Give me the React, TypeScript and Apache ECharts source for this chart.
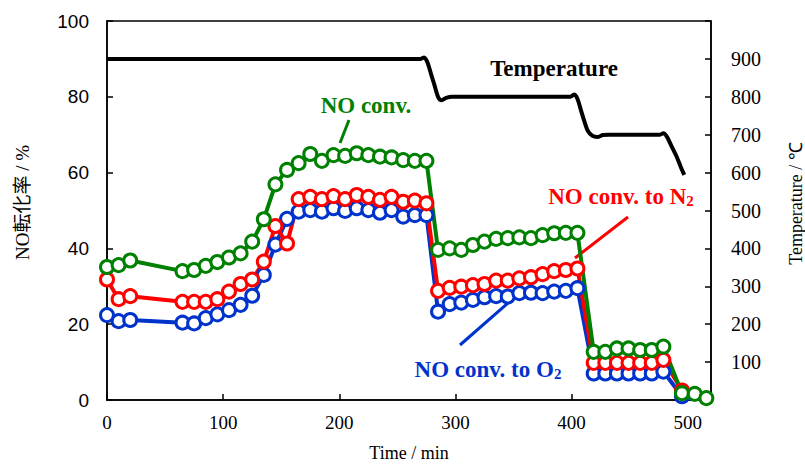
import React, { useEffect, useRef } from "react";
import * as echarts from "echarts";

const timeMain = [0, 10, 20, 65, 75, 85, 95, 105, 115, 125, 135, 145, 155, 165, 175, 185, 195, 205, 215, 225, 235, 245, 255, 265, 275, 285, 295, 305, 315, 325, 335, 345, 355, 365, 375, 385, 395, 405, 419, 429, 439, 449, 459, 469, 479, 495];
const timeGreenTail = [506, 516];

const noConv = [35.1, 35.6, 36.8, 34.0, 34.3, 35.4, 36.4, 37.6, 38.7, 41.8, 47.7, 56.9, 60.7, 62.5, 64.9, 63.1, 64.6, 64.4, 65.1, 64.6, 64.2, 64.0, 63.3, 63.1, 63.1, 39.6, 40.0, 39.6, 40.9, 41.8, 42.5, 42.7, 42.9, 42.7, 43.5, 44.0, 44.1, 44.1, 12.7, 12.7, 13.6, 13.6, 13.2, 13.2, 14.1, 1.8];
const noConvTail = [1.6, 0.5];

const noConvN2 = [31.8, 26.6, 27.4, 25.9, 25.9, 25.9, 26.6, 28.6, 30.6, 31.8, 36.5, 45.9, 41.3, 53.0, 53.6, 53.0, 53.8, 53.0, 54.1, 53.6, 52.8, 53.6, 52.3, 52.6, 51.9, 28.8, 29.6, 29.9, 30.3, 30.6, 31.5, 31.5, 32.1, 32.4, 33.2, 34.0, 34.3, 34.7, 9.8, 9.8, 9.8, 9.8, 9.8, 9.8, 10.6, 2.5];

const noConvO2 = [22.4, 20.8, 21.1, 20.4, 20.2, 21.6, 22.6, 23.7, 25.1, 27.5, 33.0, 41.0, 47.8, 49.7, 50.1, 49.7, 50.6, 49.9, 50.6, 50.1, 49.4, 50.1, 48.4, 48.8, 48.8, 23.3, 25.3, 25.7, 26.4, 27.1, 27.4, 27.3, 28.2, 28.3, 28.2, 28.6, 28.8, 29.5, 7.0, 7.0, 7.0, 7.0, 7.0, 7.0, 7.5, 1.0];

const tempTime = [0, 270, 273, 276, 279, 282, 285, 288, 292, 297, 399, 402, 405, 408, 411, 414, 418, 422, 427, 432, 476, 479, 482, 486, 490, 494, 497];
const tempVal = [900, 900, 904, 890, 860, 830, 800, 791, 797, 800, 800, 806, 795, 765, 735, 710, 697, 694, 699, 700, 700, 704, 695, 670, 645, 615, 594];

const xTicks = [0, 100, 200, 300, 400, 500];
const leftTicks = [0, 20, 40, 60, 80, 100];
const rightTicks = [100, 200, 300, 400, 500, 600, 700, 800, 900];

const GREEN = "#008000";
const RED = "#ff0000";
const BLUE = "#0033cc";
const SERIF = "'Liberation Serif', 'Times New Roman', serif";
const SANS = "'Liberation Sans', Arial, sans-serif";

function zip(t: number[], v: number[]) {
  return t.map((x, i) => [x, v[i]]);
}

function convSeries(name: string, data: number[][], color: string) {
  return {
    name,
    type: "line",
    data,
    symbol: "circle",
    symbolSize: 13,
    showAllSymbol: true,
    itemStyle: { color: "#fff", borderColor: color, borderWidth: 3 },
    lineStyle: { color, width: 4 },
    emphasis: { disabled: true },
  };
}

export default function App() {
  const ref = useRef<HTMLDivElement>(null);
  useEffect(() => {
    if (!ref.current) return;
    const chart = echarts.init(ref.current, undefined, { renderer: "svg" });
    const option: any = {
      animation: false,
      grid: {
        left: 107,
        right: 94,
        top: 21,
        bottom: 65,
        show: true,
        borderColor: "#000",
        borderWidth: 1.5,
        containLabel: false,
        outerBoundsMode: "none",
      },
      xAxis: {
        type: "value",
        min: 0,
        max: 520,
        interval: 100,
        name: "Time / min",
        nameLocation: "middle",
        nameGap: 44,
        nameTextStyle: { fontFamily: SERIF, fontSize: 18, color: "#000" },
        axisLine: { show: true, lineStyle: { color: "#000", width: 1.5 } },
        axisTick: { show: true, inside: true, length: 6, lineStyle: { color: "#000", width: 1.5 } },
        axisLabel: {
          fontFamily: SERIF,
          fontSize: 19,
          color: "#000",
          margin: 13,
          formatter: (v: number) => (xTicks.includes(v) ? String(v) : ""),
        },
        splitLine: { show: false },
      },
      yAxis: [
        {
          type: "value",
          min: 0,
          max: 100,
          interval: 20,
          position: "left",
          name: "NO転化率 / %",
          nameLocation: "middle",
          nameGap: 75,
          nameTextStyle: { fontFamily: SERIF + ", 'Noto Sans CJK JP'", fontSize: 19, color: "#000", padding: [0, 0, 0, 16] },
          axisLine: { show: true, lineStyle: { color: "#000", width: 1.5 } },
          axisTick: { show: true, inside: true, length: 6, lineStyle: { color: "#000", width: 1.5 } },
          axisLabel: {
            fontFamily: SANS,
            fontSize: 19,
            color: "#000",
            margin: 18,
            formatter: (v: number) => (leftTicks.includes(v) ? String(v) : ""),
          },
          splitLine: { show: false },
        },
        {
          type: "value",
          min: 0,
          max: 1000,
          interval: 100,
          position: "right",
          name: "Temperature / ℃",
          nameLocation: "middle",
          nameGap: 76,
          nameTextStyle: { fontFamily: SERIF, fontSize: 18, color: "#000", padding: [0, 0, 0, 14] },
          axisLine: { show: true, lineStyle: { color: "#000", width: 1.5 } },
          axisTick: { show: true, inside: true, length: 6, lineStyle: { color: "#000", width: 1.5 } },
          axisLabel: {
            fontFamily: SERIF,
            fontSize: 20,
            color: "#000",
            margin: 20,
            formatter: (v: number) => (rightTicks.includes(v) ? String(v) : ""),
          },
          splitLine: { show: false },
        },
      ],
      series: [
        {
          name: "Temperature",
          type: "line",
          yAxisIndex: 1,
          data: zip(tempTime, tempVal),
          showSymbol: false,
          smooth: 0.3,
          lineStyle: { color: "#000", width: 4 },
          emphasis: { disabled: true },
        },
        convSeries("NO conv. to O2", zip(timeMain, noConvO2), BLUE),
        convSeries("NO conv. to N2", zip(timeMain, noConvN2), RED),
        convSeries("NO conv.", zip(timeMain.concat(timeGreenTail), noConv.concat(noConvTail)), GREEN),
      ],
      graphic: [
        {
          type: "text",
          x: 366,
          y: 105,
          style: {
            text: "NO conv.",
            fontFamily: SERIF,
            fontSize: 23,
            fontWeight: "bold",
            fill: GREEN,
            align: "center",
            verticalAlign: "middle",
          },
        },
        { type: "line", shape: { x1: 349, y1: 120, x2: 340, y2: 143 }, style: { stroke: GREEN, lineWidth: 3 } },
        {
          type: "text",
          x: 554,
          y: 68,
          style: {
            text: "Temperature",
            fontFamily: SERIF,
            fontSize: 23,
            fontWeight: "bold",
            fill: "#000",
            align: "center",
            verticalAlign: "middle",
          },
        },
        {
          type: "text",
          x: 621,
          y: 196,
          style: {
            text: "{a|NO conv. to N}{s|2}",
            align: "center",
            verticalAlign: "middle",
            rich: {
              a: { fontFamily: SERIF, fontSize: 23, fontWeight: "bold", fill: RED, lineHeight: 24, verticalAlign: "bottom" },
              s: { fontFamily: SERIF, fontSize: 15, fontWeight: "bold", fill: RED, lineHeight: 9, verticalAlign: "bottom" },
            },
          },
        },
        { type: "line", shape: { x1: 628, y1: 217, x2: 575, y2: 258 }, style: { stroke: RED, lineWidth: 3 } },
        {
          type: "text",
          x: 488,
          y: 369,
          style: {
            text: "{a|NO conv. to O}{s|2}",
            align: "center",
            verticalAlign: "middle",
            rich: {
              a: { fontFamily: SERIF, fontSize: 23, fontWeight: "bold", fill: BLUE, lineHeight: 24, verticalAlign: "bottom" },
              s: { fontFamily: SERIF, fontSize: 15, fontWeight: "bold", fill: BLUE, lineHeight: 9, verticalAlign: "bottom" },
            },
          },
        },
        { type: "line", shape: { x1: 460, y1: 345, x2: 515, y2: 297 }, style: { stroke: BLUE, lineWidth: 3 } },
      ],
    };
    chart.setOption(option);
    return () => chart.dispose();
  }, []);
  return <div ref={ref} style={{ width: 805, height: 465, position: "absolute", left: 0, top: 0 }} />;
}
